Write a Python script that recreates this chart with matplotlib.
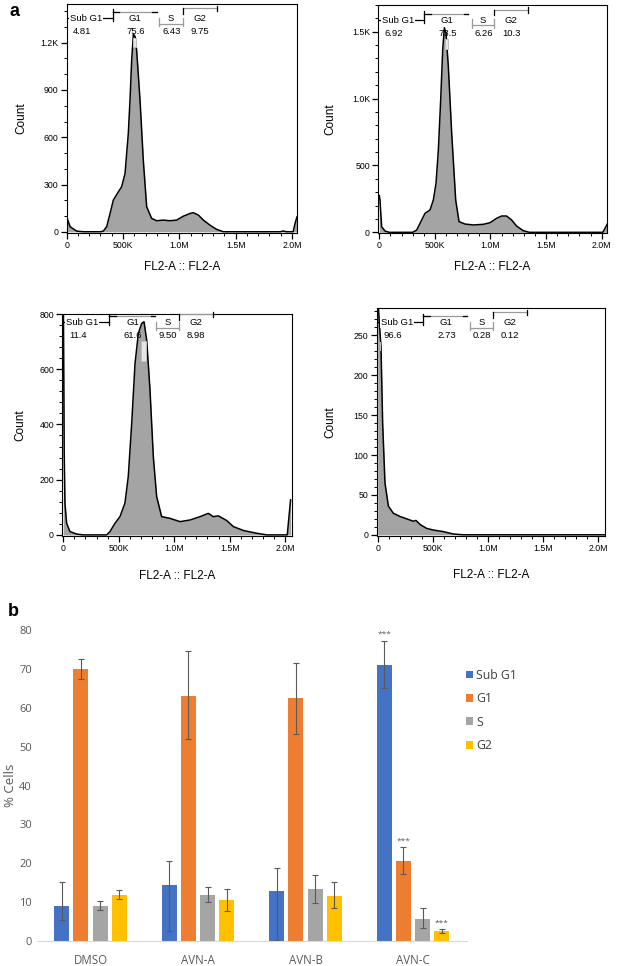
import numpy as np
import matplotlib
matplotlib.use("Agg")
import matplotlib.pyplot as plt
from matplotlib.ticker import FixedLocator, MultipleLocator
import matplotlib.transforms as mtransforms
from matplotlib.patches import Rectangle

# ---------------- Data: panel a (DNA content histograms, x in K units) ----------------
h1_x = [0, 30, 89, 150, 300, 325, 355, 385, 414, 459, 488, 518, 547, 562, 577, 592, 607, 621, 651, 680,
        710, 754, 799, 858, 917, 976, 1036, 1095, 1124, 1169, 1213, 1272, 1331, 1391, 1900, 1920, 1950,
        2010, 2030, 2045]
h1_y = [95, 32, 4, 0, 0, 4, 32, 116, 201, 254, 286, 370, 624, 836, 1090, 1255, 1240, 1153, 836, 455,
        159, 85, 70, 74, 70, 74, 99, 116, 121, 106, 74, 42, 15, 0, 0, 5, 0,
        0, 60, 95]

h2_x = [0, 6, 21, 51, 90, 300, 336, 381, 411, 456, 486, 510, 531, 552, 570, 585, 600, 621, 651, 687,
        717, 771, 846, 936, 996, 1055, 1100, 1145, 1190, 1235, 1295, 1350, 2010, 2030, 2050]
h2_y = [275, 242, 42, 10, 0, 0, 17, 92, 142, 167, 242, 366, 615, 989, 1363, 1530, 1488, 1238, 740, 242,
        80, 62, 55, 60, 72, 105, 122, 122, 92, 47, 12, 0, 0, 30, 62]

h3_x = [0, 8, 15, 30, 60, 120, 180, 391, 421, 466, 511, 556, 586, 617, 647, 677, 707, 728, 752, 782,
        812, 842, 887, 962, 1053, 1143, 1233, 1308, 1353, 1398, 1474, 1534, 1624, 1744, 1835, 2020, 2050]
h3_y = [900, 300, 115, 42, 12, 3, 0, 0, 12, 42, 66, 115, 211, 404, 621, 730, 766, 772, 706, 525,
        283, 139, 66, 60, 48, 54, 66, 78, 66, 69, 52, 30, 16, 6, 0, 0, 127]

h4_x = [0, 15, 30, 45, 66, 97, 142, 202, 263, 323, 347, 384, 444, 504, 595, 686, 776, 1000, 2060]
h4_y = [300, 265, 236, 140, 65, 36, 27, 23, 20, 17, 18, 13, 8, 6, 4, 1, 0, 0, 0]

gate_names = ["Sub G1", "G1", "S", "G2"]
gate_values = [["4.81", "75.6", "6.43", "9.75"],
               ["6.92", "73.5", "6.26", "10.3"],
               ["11.4", "61.6", "9.50", "8.98"],
               ["96.6", "2.73", "0.28", "0.12"]]
# gate boundaries (K): SubG1 end, G1 end, S start, S end (=G2 start), G2 end
gate_bounds = [[408, 799, 822, 1030, 1331],
               [405, 800, 830, 1030, 1340],
               [412, 827, 833, 1044, 1347],
               [414, 813, 837, 1042, 1356]]

x_ticks = [0, 500, 1000, 1500, 2000]
x_ticklabels = ["0", "500K", "1.0M", "1.5M", "2.0M"]
y_ticks = [[0, 300, 600, 900, 1200], [0, 500, 1000, 1500], [0, 200, 400, 600, 800],
           [0, 50, 100, 150, 200, 250]]
y_ticklabels = [["0", "300", "600", "900", "1.2K"], ["0", "500", "1.0K", "1.5K"],
                ["0", "200", "400", "600", "800"], ["0", "50", "100", "150", "200", "250"]]
y_minor = [100, 100, 40, 10]

# ---------------- Data: panel b (bar chart) ----------------
categories = ["DMSO", "AVN-A", "AVN-B", "AVN-C"]
phases = ["Sub G1", "G1", "S", "G2"]
subg1 = [9.1, 14.5, 12.8, 71.1]
subg1_hi = [15.2, 20.6, 18.9, 77.2]
subg1_lo = [5.5, 2.6, 0.2, 65.1]
g1 = [69.9, 63.1, 62.5, 20.6]
g1_hi = [72.5, 74.5, 71.6, 24.1]
g1_lo = [67.3, 51.9, 53.3, 17.3]
s_phase = [9.1, 11.9, 13.4, 5.7]
s_hi = [10.3, 13.9, 16.9, 8.4]
s_lo = [8.0, 10.1, 9.9, 3.3]
g2 = [11.9, 10.5, 11.7, 2.5]
g2_hi = [13.0, 13.4, 15.1, 3.0]
g2_lo = [10.7, 7.6, 8.6, 2.0]
# significance marks: (phase index, category index)
stars = [(0, 3), (1, 3), (3, 3)]

# ---------------- Figure ----------------
W, H = 617, 966
fig = plt.figure(figsize=(W / 100, H / 100), dpi=100)
fig.patch.set_facecolor("white")

FJ = ["Liberation Sans", "DejaVu Sans"]

def px_rect(l, r, t, b):
    return [l / W, 1 - b / H, (r - l) / W, (b - t) / H]

hist_rects = [px_rect(66.7, 296.7, 4, 232.7), px_rect(378.3, 606.7, 5, 233),
              px_rect(62.3, 291.7, 314, 536), px_rect(376.7, 605, 308.3, 536)]
hist_xlim = [(0, 2042), (-9, 2045), (-9, 2060), (-9, 2061)]
hist_ylim = [(-6, 1446), (-5, 1700), (-4, 800), (-1.5, 284)]
hist_data = [(h1_x, h1_y), (h2_x, h2_y), (h3_x, h3_y), (h4_x, h4_y)]
text_row = [0.937, 0.934, 0.962, 0.938]
count_x = [-0.173, -0.182, -0.155, -0.175]
xlabel_y = [-0.15, -0.148, -0.18, -0.172]
# label connector (x in K, length in axes fraction)
conn = [(600, 0.04, 30), (605, 0.04, 30), (725, 0.09, 40), (22, 0.035, 0)]

for i in range(4):
    ax = fig.add_axes(hist_rects[i])
    xs = np.array(hist_data[i][0], dtype=float)
    ys = np.array(hist_data[i][1], dtype=float)
    ax.fill_between(xs, 0, ys, color="#a4a4a4", lw=0, zorder=1)
    ax.plot(xs, ys, color="black", lw=1.1, zorder=2)
    ax.set_xlim(*hist_xlim[i])
    ax.set_ylim(*hist_ylim[i])
    ax.xaxis.set_major_locator(FixedLocator(x_ticks))
    ax.set_xticklabels(x_ticklabels)
    ax.xaxis.set_minor_locator(MultipleLocator(100))
    ax.yaxis.set_major_locator(FixedLocator(y_ticks[i]))
    ax.set_yticklabels(y_ticklabels[i])
    ax.yaxis.set_minor_locator(MultipleLocator(y_minor[i]))
    ax.tick_params(which="major", length=4, width=0.9, labelsize=6.3, pad=2)
    ax.tick_params(which="minor", length=2.2, width=0.7)
    for lab in ax.get_xticklabels() + ax.get_yticklabels():
        lab.set_family(FJ)
    for sp in ax.spines.values():
        sp.set_linewidth(0.8)
    ax.set_ylabel("Count", fontsize=8.5, family=FJ)
    ax.yaxis.set_label_coords(count_x[i], 0.5)
    ax.set_xlabel("FL2-A :: FL2-A", fontsize=8.5, family=FJ)
    ax.xaxis.set_label_coords(0.5, xlabel_y[i])
    ax.xaxis.label.set_va("center")

    # gates
    tr = mtransforms.blended_transform_factory(ax.transData, ax.transAxes)
    gb = gate_bounds[i]
    ty = text_row[i]
    yg1, ys_, yg2 = min(ty + 0.027, 0.995), ty - 0.023, min(ty + 0.044, 0.998)
    tick = 0.012
    kw = dict(lw=0.9, transform=tr, clip_on=False, zorder=3)
    # Sub G1
    ax.plot([0, gb[0]], [ty, ty], color="black", **kw)
    ax.plot([gb[0], gb[0]], [ty - tick, ty + tick], color="black", **kw)
    # G1
    ax.plot([gb[0], gb[1]], [yg1, yg1], color="#9a9a9a", **kw)
    ax.plot([gb[0], gb[0] + 60], [yg1, yg1], color="black", **kw)
    ax.plot([gb[1] - 40, gb[1]], [yg1, yg1], color="black", **kw)
    ax.plot([gb[0], gb[0]], [yg1 - tick, yg1 + tick], color="black", **kw)
    # S
    ax.plot([gb[2], gb[3]], [ys_, ys_], color="#9a9a9a", **kw)
    for xe in (gb[2], gb[3]):
        ax.plot([xe, xe], [ys_ - tick, ys_ + 2.2 * tick], color="#9a9a9a", **kw)
    # G2
    ax.plot([gb[3], gb[4]], [yg2, yg2], color="#9a9a9a", **kw)
    ax.plot([gb[3], gb[3]], [yg2 - 2 * tick, yg2], color="black", **kw)
    ax.plot([gb[4], gb[4]], [yg2 - tick, yg2 + tick], color="black", **kw)

    lab_x = [172, (gb[0] + gb[1]) / 2 + 5, (gb[2] + gb[3]) / 2, (gb[3] + gb[4]) / 2]
    val_x = [135, (gb[0] + gb[1]) / 2 + 10, (gb[2] + gb[3]) / 2 + 5, (gb[3] + gb[4]) / 2]
    for k in range(4):
        ax.text(lab_x[k], ty, gate_names[k], transform=tr, ha="center", va="center", fontsize=6.8,
                family=FJ, zorder=4,
                bbox=dict(facecolor="white", edgecolor="none", pad=0.6) if k == 0 else None)
        ax.text(val_x[k], ty - 0.058, gate_values[i][k], transform=tr, ha="center", va="center",
                fontsize=6.8, family=FJ, zorder=4)
    # label connector
    cx, clen, cw = conn[i]
    ctop = ty - 0.085
    if cw > 0:
        ax.add_patch(Rectangle((cx - cw / 2, ctop - clen), cw, clen, transform=tr, facecolor="#e6e6e6",
                               edgecolor="#bdbdbd", lw=0.7, zorder=2.5))
    else:
        ax.plot([cx, cx], [ctop - clen, ctop], color="#bdbdbd", lw=0.8, transform=tr, zorder=2.5)

fig.text(10 / W, 1 - 12 / H, "a", fontsize=13, fontweight="bold", ha="left", va="center", family=FJ)
fig.text(8 / W, 1 - 612 / H, "b", fontsize=13, fontweight="bold", ha="left", va="center", family=FJ)

# ---------------- Panel b ----------------
XL = ["Open Sans", "DejaVu Sans"]
axb = fig.add_axes(px_rect(36.7, 466.7, 630, 941))
colors = ["#4472C4", "#ED7D31", "#A5A5A5", "#FFC000"]
vals = [subg1, g1, s_phase, g2]
his = [subg1_hi, g1_hi, s_hi, g2_hi]
los = [subg1_lo, g1_lo, s_lo, g2_lo]
xc = np.arange(len(categories))
step, width = 0.179, 0.14
for j in range(4):
    v = np.array(vals[j])
    yerr = [v - np.array(los[j]), np.array(his[j]) - v]
    axb.bar(xc + (j - 1.5) * step, v, width=width, color=colors[j], label=phases[j], zorder=2,
            yerr=yerr, error_kw=dict(ecolor="#595959", elinewidth=0.8, capsize=2, capthick=0.8))
for (j, c) in stars:
    axb.text(c + (j - 1.5) * step, his[j][c] + 0.7, "***", ha="center", va="bottom", fontsize=6,
             color="#595959", family=XL)
axb.set_xlim(-0.5, 3.5)
axb.set_ylim(0, 80)
axb.set_yticks(np.arange(0, 81, 10))
axb.set_xticks(xc)
axb.set_xticklabels(categories)
for sp in ["top", "right", "left"]:
    axb.spines[sp].set_visible(False)
axb.spines["bottom"].set_color("#d9d9d9")
axb.tick_params(axis="x", length=0, pad=9, labelsize=8.3, labelcolor="#595959")
axb.tick_params(axis="y", length=0, pad=3.5, labelsize=8, labelcolor="#595959")
for lab in axb.get_xticklabels() + axb.get_yticklabels():
    lab.set_family(XL)
axb.set_ylabel("% Cells", fontsize=9.5, color="#595959", family=XL)
axb.yaxis.set_label_coords((10 - 36.7) / 430, 0.5)
axb.yaxis.label.set_va("center")
leg = axb.legend(loc="upper left", bbox_to_anchor=(461 / W, 1 - 664 / H), bbox_transform=fig.transFigure,
                 frameon=False, handlelength=0.55, handleheight=0.6, handletextpad=0.3,
                 labelspacing=0.85, prop=dict(family=XL, size=8.8), borderaxespad=0)
for t in leg.get_texts():
    t.set_color("#404040")

fig.savefig("out.png", dpi=100)
